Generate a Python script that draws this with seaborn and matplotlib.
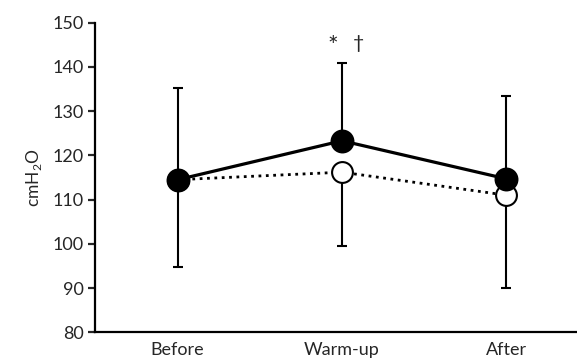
import matplotlib
matplotlib.use("Agg")
import matplotlib.pyplot as plt
import seaborn as sns
import pandas as pd

sns.set_style("white")
plt.rcParams['font.family'] = ['Lato', 'DejaVu Sans']

phases = ["Before", "Warm-up", "After"]
solid_mean = [114.5, 123.3, 114.7]
solid_sd = [20.7, 17.5, 18.8]
open_mean = [114.5, 116.2, 111.0]
open_sd = [19.7, 16.7, 21.0]
yticks = [80, 90, 100, 110, 120, 130, 140, 150]

df_solid = pd.DataFrame({"phase": phases, "value": solid_mean})
df_open = pd.DataFrame({"phase": phases, "value": open_mean})

fig = plt.figure(figsize=(5.77, 3.59), dpi=100)
ax = fig.add_axes([0.1646, 0.0744, 0.8354, 0.8624])

# error bars: solid series upward, open series downward
xs = range(len(phases))
ax.errorbar(xs, solid_mean, yerr=[[0] * 3, solid_sd], fmt="none",
            ecolor="black", elinewidth=1.5, capsize=3.5, capthick=1.5, zorder=1)
ax.errorbar(xs, open_mean, yerr=[open_sd, [0] * 3], fmt="none",
            ecolor="black", elinewidth=1.5, capsize=3.5, capthick=1.5, zorder=1)

sns.pointplot(data=df_open, x="phase", y="value", order=phases, color="black",
              linestyles=":", markers="o", errorbar=None, ax=ax,
              markersize=15, markerfacecolor="white", markeredgewidth=1.5,
              linewidth=2.0, zorder=3)
sns.pointplot(data=df_solid, x="phase", y="value", order=phases, color="black",
              linestyles="-", markers="o", errorbar=None, ax=ax,
              markersize=15.5, linewidth=2.3, zorder=4)

ax.text(0.947, 144.6, "*", ha="center", va="center", fontsize=18)
ax.text(1.10, 145.2, "†", ha="center", va="center", fontsize=14)

ax.set_xlim(-0.503, 2.43)
ax.set_ylim(80, 150)
ax.set_yticks(yticks)
ax.set_xlabel("")
ax.set_ylabel("cmH$_\\mathregular{2}$O", fontsize=12.5, labelpad=6)

for s in ["top", "right"]:
    ax.spines[s].set_visible(False)
for s in ["left", "bottom"]:
    ax.spines[s].set_linewidth(1.6)
    ax.spines[s].set_color("black")
ax.tick_params(axis="y", direction="out", length=5, width=1.6, labelsize=13,
               left=True, pad=3)
ax.tick_params(axis="x", length=0, labelsize=13, pad=7)

fig.savefig("out.png", dpi=100)
plt.close()
